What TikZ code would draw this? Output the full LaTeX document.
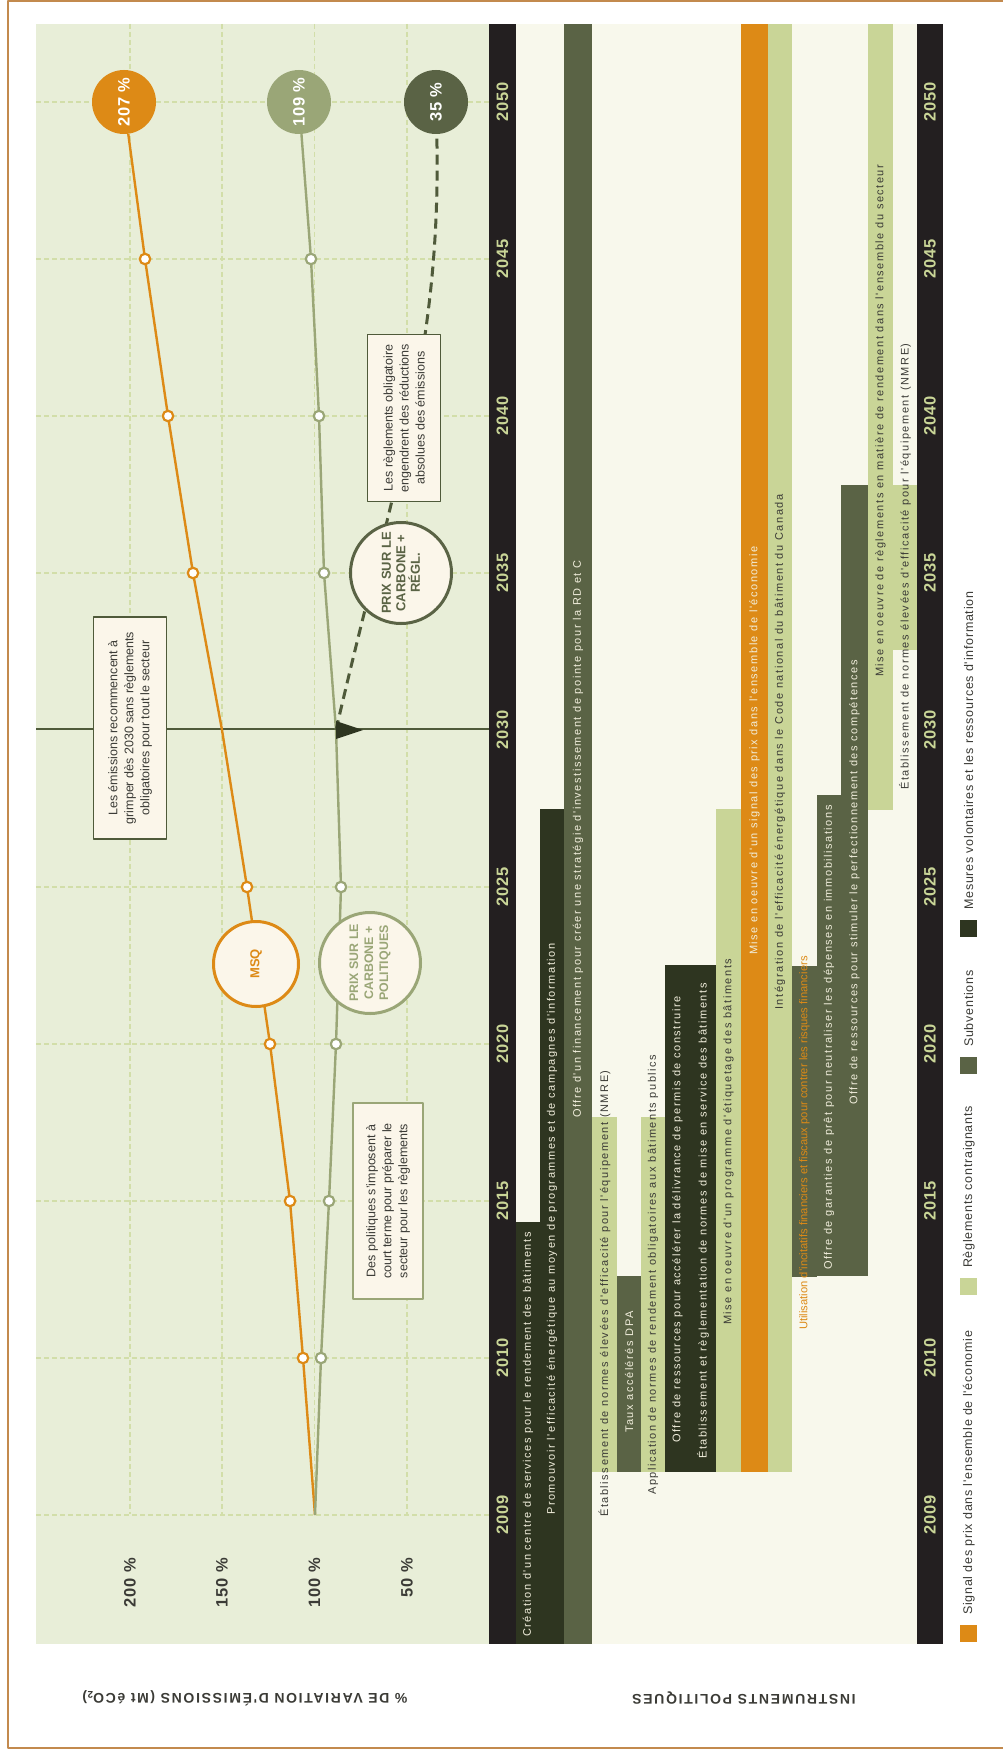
\documentclass[tikz,border=0pt]{standalone}
\usepackage{fontspec}
\setmainfont{Liberation Sans}
\newfontfamily\yearfont{Liberation Sans}[LetterSpace=5]
\newfontfamily\barfont{Liberation Sans}[LetterSpace=14]
\newfontfamily\legfont{Liberation Sans}[LetterSpace=6]
\newfontfamily\titlefont{Liberation Sans}[LetterSpace=12]
\usetikzlibrary{calc,positioning}

\definecolor{signal}{HTML}{DD8A16}
\definecolor{regl}{HTML}{C9D597}
\definecolor{subv}{HTML}{5A6345}
\definecolor{volont}{HTML}{2E3520}
\definecolor{sage}{HTML}{9AA677}
\definecolor{yearbar}{HTML}{231F20}
\definecolor{chartbg}{HTML}{E8EED8}
\definecolor{barbg}{HTML}{F8F8EC}
\definecolor{gridc}{HTML}{D2DEA9}
\definecolor{cream}{HTML}{FBF6EA}
\definecolor{pale}{HTML}{F1EEDC}
\definecolor{ink}{HTML}{3B3B36}
\definecolor{framec}{HTML}{C38A4E}
\definecolor{darkolive}{HTML}{4F5A3A}

\begin{document}
\begin{tikzpicture}[x=1pt,y=-1pt,line join=round,
		gridline/.style={gridc,line width=1.1pt,dash pattern=on 5pt off 3pt},
		yr/.style={rotate=90,inner sep=0pt,text=regl,font=\yearfont\bfseries\fontsize{16.5}{18}\selectfont},
		pct/.style={rotate=90,inner sep=0pt,anchor=east,text=ink,font=\yearfont\bfseries\fontsize{16.5}{18}\selectfont},
		dot/.style={circle,draw=#1,fill=white,line width=2.2pt,minimum size=10.5pt,inner sep=0pt},
		goal/.style={circle,fill=#1,minimum size=64pt,inner sep=0pt,rotate=90,text=white,font=\yearfont\bfseries\fontsize{16.5}{18}\selectfont},
		scen/.style={circle,draw=#1,text=#1,fill=cream,line width=3pt,inner sep=0pt,rotate=90,align=center,font=\bfseries\fontsize{12.4}{15}\selectfont},
		callout/.style={draw=#1,fill=cream,line width=1.8pt,rotate=90,align=center,text=ink,inner sep=2pt,font=\fontsize{12.5}{16}\selectfont},
		bartxt/.style={rotate=90,anchor=west,inner sep=0pt,font=\barfont\fontsize{11}{12}\selectfont},
		legtxt/.style={rotate=90,anchor=west,inner sep=0pt,text=ink,font=\legfont\fontsize{12.5}{14}\selectfont},
		axistitle/.style={rotate=180,text=ink,font=\titlefont\bfseries\fontsize{14}{16}\selectfont}
	]
	\useasboundingbox (0,0) rectangle (1003,1752);
	\draw[framec,line width=2pt] (1010,1) -- (8,1) -- (8,1748) -- (1010,1748);

	% backgrounds
	\fill[chartbg] (36,24) rectangle (489,1644);
	\fill[barbg] (516,24) rectangle (917,1644);
	\fill[yearbar] (489,24) rectangle (516,1644);
	\fill[yearbar] (917,24) rectangle (943,1644);

	% grid
	\foreach \x/\p in {130/200,222/150,314.5/100,407/50} {
		\draw[gridline] (\x,24) -- (\x,1514);
		\node[pct] (pct-\p) at (\x,1558) {\p~\%};
	}
	\foreach \i in {0,1,2,3,4,6,7,8,9}
		\draw[gridline] (36,{1515-157*\i}) -- (489,{1515-157*\i});
	\coordinate (ref-a) at (36,729);
	\coordinate (ref-b) at (489,729);
	\draw[darkolive,line width=1.3pt] (ref-a) -- (ref-b);

	% years
	\foreach \yr [count=\i from 0] in {2009,2010,2015,2020,2025,2030,2035,2040,2045,2050} {
		\node[yr] (ya-\i) at (502.5,{1515-157*\i}) {\yr};
		\node[yr] (yb-\i) at (930,{1515-157*\i}) {\yr};
	}

	% scenarios
	\foreach \x [count=\i from 0] in {315,303,290,270,247,222,193,168,145}
		\coordinate (m-\i) at (\x,{1515-157*\i});
	\foreach \x [count=\i from 0] in {315,321,329,336,341,336,324,319,311}
		\coordinate (g-\i) at (\x,{1515-157*\i});
	\node[goal=signal] (b207) at (124,102) {207~\%};
	\node[goal=sage] (b109) at (299,102) {109~\%};
	\node[goal=subv] (b35) at (436,102) {35~\%};

	\draw[signal,line width=2.4pt] (m-0) \foreach \i in {1,...,8} {-- (m-\i)} -- (b207);
	\draw[sage,line width=2.4pt] (g-0) \foreach \i in {1,...,8} {-- (g-\i)} -- (b109);
	\draw[darkolive,line width=3pt,dash pattern=on 10pt off 6pt] (g-5) to[out=77,in=-96] (b35);
	\fill[volont] ($(g-5)+(0,-9)$) -- ($(g-5)+(27,0)$) -- ($(g-5)+(0,9)$) -- cycle;
	\foreach \i in {1,2,3,4,6,7,8} {
		\node[dot=signal] (mp-\i) at (m-\i) {};
		\node[dot=sage] (gp-\i) at (g-\i) {};
	}

	\node[scen=signal,minimum size=85pt,font=\bfseries\fontsize{13}{15}\selectfont] (msq) at (256,964) {MSQ};
	\node[scen=sage,minimum size=101pt] (pol) at (370,963) {PRIX SUR LE\\CARBONE +\\POLITIQUES};
	\node[scen=subv,minimum size=101pt,font=\bfseries\fontsize{13}{14.5}\selectfont] (rgl) at (401,573) {PRIX SUR LE\\CARBONE +\\RÉGL.};

	\node[callout=darkolive,minimum width=222pt,minimum height=73pt] (note-2030) at (130,728) {Les émissions recommencent à\\grimper dès 2030 sans règlements\\obligatoires pour tout le secteur};
	\node[callout=darkolive,minimum width=167pt,minimum height=73pt] (note-regl) at (404,418) {Les règlements obligatoire\\engendrent des réductions\\absolues des émissions};
	\node[callout=sage,minimum width=196pt,minimum height=70pt] (note-pol) at (388,1201) {Des politiques s'imposent à\\court terme pour préparer le\\secteur pour les règlements};

	% instruments
	\foreach \xa/\xb/\ya/\yb/\c in {516/540/1222/1644/volont,540/564/809/1644/volont,564/592/24/1644/subv,592/617/1117/1472/regl,617/641/1276/1472/subv,641/665/1117/1472/regl,665/690/965/1472/volont,690/716/965/1472/volont,716/741/809/1472/regl,741/768/24/1472/signal,768/792/24/1472/regl,792/817/966/1277/subv,817/841/795/1276/subv,841/868/485/1276/subv,868/893/24/810/regl,893/917/485/650/regl}
		\fill[\c] (\xa,\ya) rectangle (\xb,\yb);

	\foreach \x/\y/\c/\t [count=\n] in {
			528/1637/pale/{Création d'un centre de services pour le rendement des bâtiments},
			552/1515/pale/{Promouvoir l'efficacité énergétique au moyen de programmes et de campagnes d'information},
			578/1118/pale/{Offre d'un financement pour créer une stratégie d'investissement de pointe pour la RD et C},
			604.5/1517/ink/{Établissement de normes élevées d'efficacité pour l'équipement (NMRE)},
			629/1433/pale/{Taux accélérés DPA},
			653/1495/ink/{Application de normes de rendement obligatoires aux bâtiments publics},
			677.5/1443/pale/{Offre de ressources pour accélérer la délivrance de permis de construire},
			703/1459/pale/{Établissement et règlementation de normes de mise en service des bâtiments},
			728.5/1325/ink/{Mise en oeuvre d'un programme d'étiquetage des bâtiments},
			754.5/955/pale/{Mise en oeuvre d'un signal des prix dans l'ensemble de l'économie},
			780/1010/ink/{Intégration de l'efficacité énergétique dans le Code national du bâtiment du Canada},
			829/1270/pale/{Offre de garanties de prêt pour neutraliser les dépenses en immobilisations},
			854.5/1105/pale/{Offre de ressources pour stimuler le perfectionnement des compétences},
			880.5/677/ink/{Mise en oeuvre de règlements en matière de rendement dans l'ensemble du secteur},
			905/790/ink/{Établissement de normes élevées d'efficacité pour l'équipement (NMRE)}}
		\node[bartxt,text=\c] (bar-\n) at (\x,\y) {\t};
	\node[bartxt,text=signal,font=\fontsize{11.2}{12}\selectfont] (bar-incit) at (804.5,1330) {Utilisation d'incitatifs financiers et fiscaux pour contrer les risques financiers};

	% legend
	\foreach \y/\c/\t [count=\n] in {1625/signal/{Signal des prix dans l'ensemble de l'économie},1278/regl/{Règlements contraignants},1057/subv/{Subventions},920/volont/{Mesures volontaires et les ressources d'information}} {
		\node[fill=\c,minimum size=17pt,inner sep=0pt,anchor=north west] (key-\n) at (960,\y) {};
		\node[legtxt] (keytxt-\n) at ($(key-\n.north)+(0,-10)$) {\t};
	}

	\node[axistitle] (title-pct) at (245,1698) {\% DE VARIATION D'ÉMISSIONS (Mt éCO\textsubscript{2})};
	\node[axistitle] (title-inst) at (744,1698) {INSTRUMENTS POLITIQUES};
\end{tikzpicture}
\end{document}
